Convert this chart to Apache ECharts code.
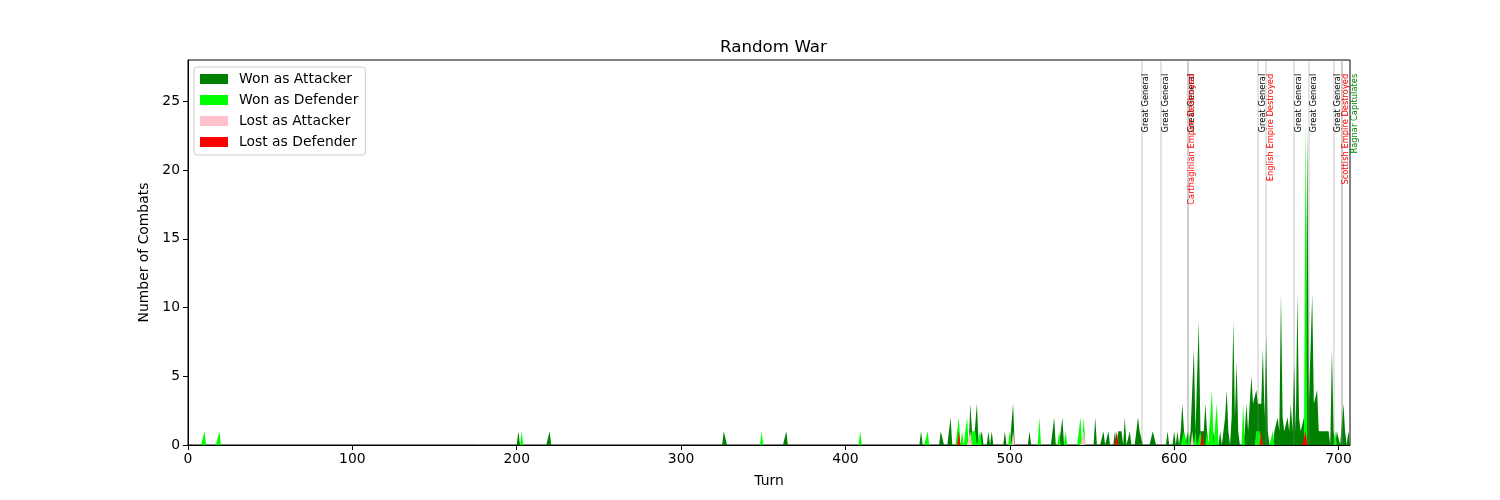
<!DOCTYPE html>
<html>
<head>
<meta charset="utf-8">
<script src="https://cdn.jsdelivr.net/npm/echarts@6/dist/echarts.min.js"></script>
<style>html,body{margin:0;padding:0;background:#fff}#c{width:1500px;height:500px}</style>
</head>
<body>
<div id="c"></div>
<script>
const TURN_MAX = 707;
const xTicks = [0, 100, 200, 300, 400, 500, 600, 700];
const yTicks = [0, 5, 10, 15, 20, 25];
const seriesNames = ['Won as Attacker', 'Won as Defender', 'Lost as Attacker', 'Lost as Defender'];
const seriesColors = ['#008000', '#00ff00', '#ffc0cb', '#ff0000'];

// nonzero turns only: [turn, combats]
const wonAttacker = [[201,1],[220,1],[326,1],[327,1],[364,1],[446,1],[458,1],[459,1],[464,2],[476,3],[477,1],[480,3],[483,1],[487,1],[489,1],[497,1],[502,3],[512,1],[527,2],[532,2],[552,2],[557,1],[560,1],[564,1],[566,1],[567,1],[568,1],[570,2],[573,1],[578,2],[579,1],[580,1],[587,1],[588,1],[596,1],[600,1],[602,1],[604,1],[605,3],[606,1],[608,1],[610,1],[611,1],[612,7],[613,1],[614,1],[615,9],[616,1],[617,1],[618,1],[619,3],[620,1],[622,2],[624,1],[628,1],[630,1],[631,2],[632,4],[633,1],[635,2],[636,9],[637,2],[638,6],[639,1],[643,1],[644,3],[645,1],[646,1],[647,5],[648,3],[649,3],[650,4],[651,3],[652,3],[653,3],[654,7],[655,2],[656,8],[657,1],[661,1],[662,1],[663,2],[664,1],[665,11],[666,2],[667,1],[668,1],[669,2],[670,1],[671,3],[672,1],[673,6],[674,1],[675,11],[676,2],[677,1],[678,1],[679,2],[681,23],[682,3],[683,3],[684,11],[685,3],[686,3],[687,4],[688,1],[689,1],[690,1],[691,1],[692,1],[693,1],[694,1],[696,7],[697,1],[699,1],[700,1],[703,3],[704,1],[706,1]];
const wonDefender = [[10,1],[19,1],[203,1],[349,1],[409,1],[450,1],[469,2],[471,1],[474,2],[477,1],[478,1],[479,1],[482,1],[500,1],[518,2],[530,1],[534,1],[543,2],[545,2],[606,1],[607,1],[609,1],[613,1],[616,1],[620,1],[623,4],[626,3],[642,3],[650,1],[651,1],[652,1],[653,1],[660,1],[680,24],[698,1]];
const lostAttacker = [[476,1],[502,1],[545,1],[611,1]];
const lostDefender = [[469,1],[565,1],[617,1],[653,1],[680,1]];

// events: [turn, label, colour]
const events = [
  [580, 'Great General', '#000000'],
  [592, 'Great General', '#000000'],
  [608, 'Great General', '#000000'],
  [608, 'Carthaginian Empire Destroyed', '#ff0000'],
  [651, 'Great General', '#000000'],
  [656, 'English Empire Destroyed', '#ff0000'],
  [673, 'Great General', '#000000'],
  [682, 'Great General', '#000000'],
  [697, 'Great General', '#000000'],
  [702, 'Scottish Empire Destroyed', '#ff0000'],
  [702, '', '#ff0000'],
  [707, 'Ragnar Capitulates', '#008000']
];
const EVENT_LABEL_Y = 27;

function dense(sparse) {
  const m = new Map(sparse);
  const out = [];
  for (let t = 0; t <= TURN_MAX; t++) out.push([t, m.get(t) || 0]);
  return out;
}

const FONT = 'DejaVu Sans';
const chart = echarts.init(document.getElementById('c'), null, {renderer: 'canvas'});
const allData = [wonAttacker, wonDefender, lostAttacker, lostDefender];

const series = allData.map((d, i) => ({
  name: seriesNames[i],
  type: 'line',
  data: dense(d),
  symbol: 'none',
  showSymbol: false,
  silent: true,
  animation: false,
  itemStyle: {color: seriesColors[i]},
  lineStyle: {width: 0, opacity: 0, color: seriesColors[i]},
  areaStyle: {color: seriesColors[i], opacity: 1}
}));
series[3].markLine = {
  silent: true,
  symbol: ['none', 'none'],
  animation: false,
  label: {show: false},
  lineStyle: {color: 'rgba(128,128,128,0.3)', width: 1.5, type: 'solid', opacity: 1},
  data: events.map(e => ({xAxis: e[0]}))
};

chart.setOption({
  animation: false,
  backgroundColor: '#fff',
  title: {
    text: 'Random War', left: 715, top: 34,
    textStyle: {fontFamily: FONT, fontSize: 16.7, fontWeight: 'normal', color: '#000'}
  },
  legend: {
    data: seriesNames, orient: 'vertical', left: 194, top: 67,
    icon: 'rect', itemWidth: 28, itemHeight: 10, itemGap: 7,
    padding: [5, 7, 6, 6],
    backgroundColor: 'rgba(255,255,255,0.8)', borderColor: '#cccccc', borderWidth: 1, borderRadius: 3,
    textStyle: {fontFamily: FONT, fontSize: 13.9, color: '#000', lineHeight: 14, padding: [0, 0, 0, 6]}
  },
  grid: {left: 188, right: 150, top: 60, bottom: 55, show: true, borderColor: '#000', borderWidth: 1, backgroundColor: 'transparent'},
  xAxis: {
    type: 'value', min: 0, max: TURN_MAX, interval: 100,
    name: 'Turn', nameLocation: 'middle', nameGap: 29,
    nameTextStyle: {fontFamily: FONT, fontSize: 13.9, color: '#000'},
    axisLine: {show: true, lineStyle: {color: '#000', width: 1}},
    axisTick: {show: true, length: 5, lineStyle: {color: '#000'}, customValues: xTicks},
    axisLabel: {fontFamily: FONT, fontSize: 13.9, color: '#000', margin: 7, customValues: xTicks},
    splitLine: {show: false}
  },
  yAxis: {
    type: 'value', min: 0, max: 28, interval: 5,
    name: 'Number of Combats', nameLocation: 'middle', nameGap: 33,
    nameTextStyle: {fontFamily: FONT, fontSize: 13.9, color: '#000'},
    axisLine: {show: true, lineStyle: {color: '#000', width: 1}},
    axisTick: {show: true, length: 5, lineStyle: {color: '#000'}, customValues: yTicks},
    axisLabel: {fontFamily: FONT, fontSize: 13.9, color: '#000', margin: 8, customValues: yTicks},
    splitLine: {show: false}
  },
  series: series
});

const graphics = events.filter(e => e[1]).map(e => {
  const p = chart.convertToPixel({gridIndex: 0}, [e[0], EVENT_LABEL_Y]);
  return {
    type: 'text', x: p[0] + 0.5, y: p[1], rotation: Math.PI / 2, silent: true, z: 100,
    style: {text: e[1], fill: e[2], fontFamily: FONT, fontSize: 8.33, align: 'right', verticalAlign: 'top'}
  };
});
chart.setOption({graphic: graphics});
</script>
</body>
</html>
